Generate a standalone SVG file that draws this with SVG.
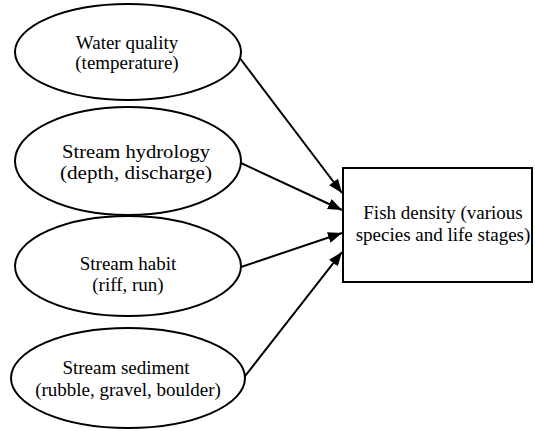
<svg xmlns="http://www.w3.org/2000/svg" width="535" height="431" viewBox="0 0 535 431">
<style>
.n{fill:#fff;stroke:#000;stroke-width:2}
.t{font-family:'Liberation Serif','Times New Roman','DejaVu Serif',serif;font-size:19px;fill:#000;text-anchor:middle}
.c{stroke:#000;stroke-width:2;fill:none;marker-end:url(#ah)}
</style>
<defs>
<marker id="ah" viewBox="0 0 14 11" refX="14" refY="5.5" markerWidth="14" markerHeight="11" markerUnits="userSpaceOnUse" orient="auto">
<path d="M0,0 L14,5.5 L0,11 Z" fill="#000"/>
</marker>
</defs>
<rect width="535" height="431" fill="#fff"/>
<g id="connectors">
<line class="c" x1="239" y1="57" x2="342" y2="193"/>
<line class="c" x1="241" y1="163" x2="342" y2="210"/>
<line class="c" x1="241" y1="267" x2="342" y2="233"/>
<line class="c" x1="242" y1="380" x2="342" y2="252"/>
</g>
<g id="water">
<ellipse class="n" cx="128" cy="52" rx="113" ry="48"/>
<text class="t" x="127" y="49">Water quality</text>
<text class="t" x="127" y="69">(temperature)</text>
</g>
<g id="hydrology">
<ellipse class="n" cx="128" cy="161" rx="113" ry="54"/>
<text class="t" x="136" y="158" textLength="148" lengthAdjust="spacingAndGlyphs">Stream hydrology</text>
<text class="t" x="136" y="179" textLength="152" lengthAdjust="spacingAndGlyphs">(depth, discharge)</text>
</g>
<g id="habit">
<ellipse class="n" cx="128" cy="266" rx="113" ry="50"/>
<text class="t" x="128" y="270">Stream habit</text>
<text class="t" x="128" y="291">(riff, run)</text>
</g>
<g id="sediment">
<ellipse class="n" cx="128" cy="378" rx="117" ry="50"/>
<text class="t" x="126" y="374">Stream sediment</text>
<text class="t" x="128" y="396">(rubble, gravel, boulder)</text>
</g>
<g id="fish">
<rect class="n" x="343" y="168" width="189" height="114"/>
<text class="t" x="443" y="219">Fish density (various</text>
<text class="t" x="443" y="241">species and life stages)</text>
</g>
</svg>
